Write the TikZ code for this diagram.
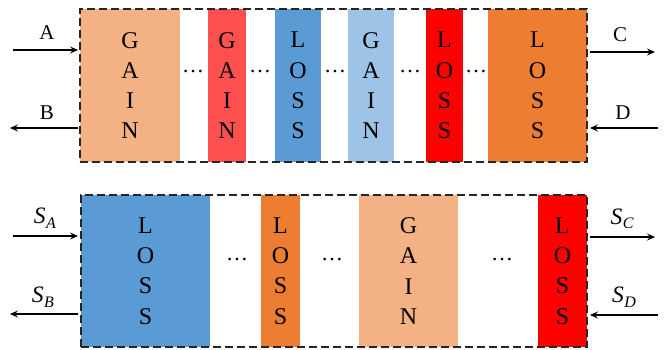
\documentclass[tikz,border=0pt]{standalone}
\usepackage{fontspec}
\setmainfont{Liberation Serif}
\usetikzlibrary{arrows.meta}
\definecolor{lorange}{HTML}{F4B183}
\definecolor{pinkred}{HTML}{FF5050}
\definecolor{mblue}{HTML}{5B9BD5}
\definecolor{lblue}{HTML}{9DC3E6}
\definecolor{pred}{HTML}{FF0000}
\definecolor{dorange}{HTML}{ED7D31}
\definecolor{framegray}{HTML}{262626}
\newcommand{\slbl}[1]{{\itshape S}\kern0.5pt\raisebox{-4.5pt}{\fontsize{16}{16}\selectfont\itshape #1}}
\begin{document}
\begin{tikzpicture}[x=1pt,y=-1pt,
  blk/.style={rectangle, inner sep=0pt, align=center,
    font=\fontsize{24}{30.3}\selectfont},
  topblk/.style={blk, minimum height=153pt},
  botblk/.style={blk, minimum height=152pt},
  frame/.style={rectangle, draw=framegray, line width=1.3pt,
    dash pattern=on 8pt off 4pt, inner sep=0pt},
  dotsnode/.style={inner sep=0pt, font=\fontsize{22}{24}\selectfont},
  lbl/.style={inner sep=0pt, font=\fontsize{21}{24}\selectfont},
  slblstyle/.style={inner sep=0pt, font=\fontsize{23.5}{26}\selectfont},
  arr/.style={line width=1.2pt, -{Stealth[length=8pt,width=7pt,inset=3pt]}}
]
\useasboundingbox (0,0) rectangle (667,349);

% top row blocks
\node[topblk, fill=lorange, minimum width=100pt] (t1) at (130,85.5) {G\\A\\I\\N};
\node[topblk, fill=pinkred, minimum width=38pt] (t2) at (227,85.5) {G\\A\\I\\N};
\node[topblk, fill=mblue, minimum width=46pt] (t3) at (298,85.5) {L\\O\\S\\S};
\node[topblk, fill=lblue, minimum width=46pt] (t4) at (371,85.5) {G\\A\\I\\N};
\node[topblk, fill=pred, minimum width=37pt] (t5) at (444.5,85.5) {L\\O\\S\\S};
\node[topblk, fill=dorange, minimum width=99pt] (t6) at (537.5,85.5) {L\\O\\S\\S};

\node[dotsnode] (td1) at (193,72) {…};
\node[dotsnode] (td2) at (260,72) {…};
\node[dotsnode] (td3) at (335,72) {…};
\node[dotsnode] (td4) at (410,72) {…};
\node[dotsnode] (td5) at (476,72) {…};

\node[frame, minimum width=507pt, minimum height=153pt] (topframe) at (333.5,85.5) {};

% bottom row blocks
\node[botblk, fill=mblue, minimum width=129pt] (b1) at (145.5,271) {L\\O\\S\\S};
\node[botblk, fill=dorange, minimum width=39pt] (b2) at (280.5,271) {L\\O\\S\\S};
\node[botblk, fill=lorange, minimum width=99pt] (b3) at (408.5,271) {G\\A\\I\\N};
\node[botblk, fill=pred, minimum width=49pt] (b4) at (562.5,271) {L\\O\\S\\S};

\node[dotsnode] (bd1) at (237,260) {…};
\node[dotsnode] (bd2) at (332,260) {…};
\node[dotsnode] (bd3) at (502,260) {…};

\node[frame, minimum width=506pt, minimum height=152pt] (botframe) at (334,271) {};

% top arrows
\coordinate (a0) at (13,50);  \coordinate (a1) at (78,50);
\coordinate (b0) at (78,128); \coordinate (b1e) at (10,128);
\coordinate (c0) at (590,52); \coordinate (c1) at (655,52);
\coordinate (d0) at (658,128); \coordinate (d1) at (590,128);
\draw[arr] (a0) -- (a1);
\draw[arr] (b0) -- (b1e);
\draw[arr] (c0) -- (c1);
\draw[arr] (d0) -- (d1);
\node[lbl] (la) at (47,33) {A};
\node[lbl] (lb) at (47,113) {B};
\node[lbl] (lc) at (620,35) {C};
\node[lbl] (ld) at (623,113) {D};

% bottom arrows
\coordinate (sa0) at (13,236);  \coordinate (sa1) at (78,236);
\coordinate (sb0) at (78,314);  \coordinate (sb1) at (10,314);
\coordinate (sc0) at (590,237); \coordinate (sc1) at (655,237);
\coordinate (sd0) at (658,315); \coordinate (sd1) at (590,315);
\draw[arr] (sa0) -- (sa1);
\draw[arr] (sb0) -- (sb1);
\draw[arr] (sc0) -- (sc1);
\draw[arr] (sd0) -- (sd1);
\node[slblstyle] (lsa) at (45,218) {\slbl{A}};
\node[slblstyle] (lsb) at (43,297) {\slbl{B}};
\node[slblstyle] (lsc) at (622,219) {\slbl{C}};
\node[slblstyle] (lsd) at (624,297) {\slbl{D}};
\end{tikzpicture}
\end{document}
